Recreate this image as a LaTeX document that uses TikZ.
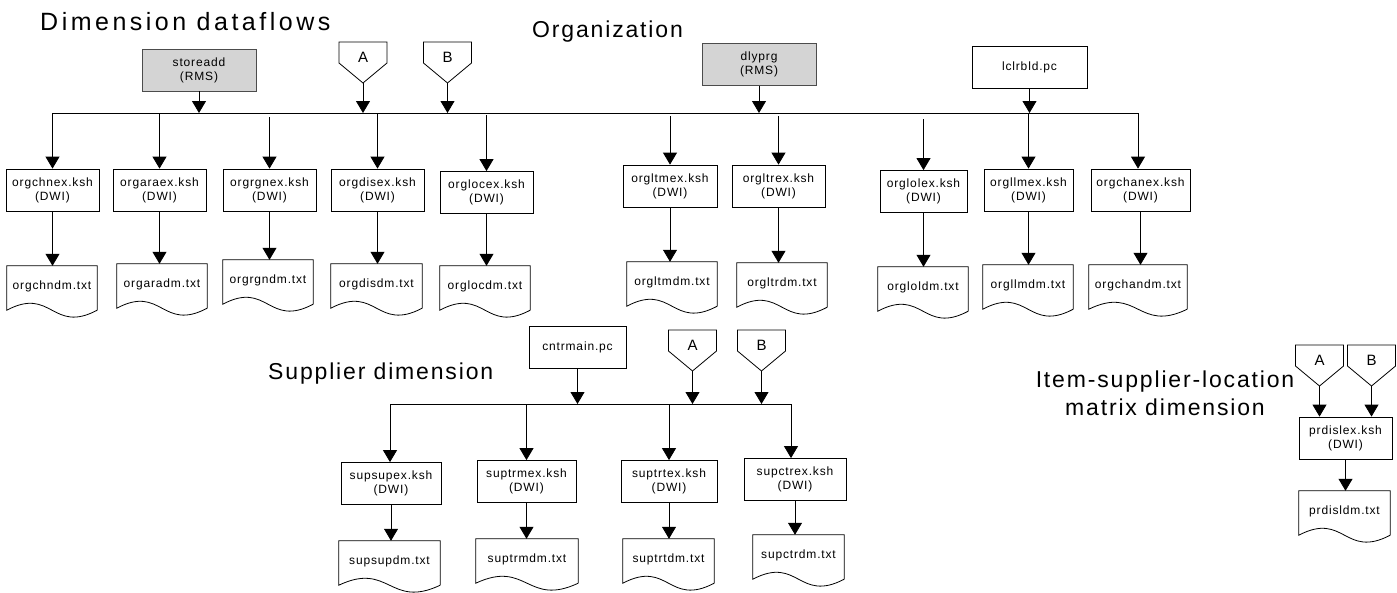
\documentclass[tikz,border=0pt]{standalone}
\usepackage{fontspec}
\setmainfont{Liberation Sans}
\newfontfamily\boxfont[LetterSpace=7]{Liberation Sans}
\newfontfamily\headfont[LetterSpace=8]{Liberation Sans}
\newfontfamily\titlefont[LetterSpace=14]{Liberation Sans}
\usetikzlibrary{arrows.meta}
\definecolor{rmsgray}{RGB}{212,212,212}

\begin{document}
\begin{tikzpicture}[x=1pt,y=-1pt,
    proc/.style={draw,line width=0.8pt,minimum width=93pt,minimum height=42pt,inner sep=1pt,align=center,
      font={\boxfont\fontsize{12pt}{14pt}\selectfont}},
    rms/.style={proc,fill=rmsgray,draw=black!70,minimum width=114pt},
    txtdoc/.style={minimum width=90pt,minimum height=44pt,inner sep=0pt,text depth=6pt,
      font={\boxfont\fontsize{12pt}{14pt}\selectfont}},
    flow/.style={line width=0.8pt,-{Triangle[width=14pt,length=12pt]}},
    head/.style={font={\headfont\fontsize{23pt}{28pt}\selectfont},inner sep=0pt}]
  \useasboundingbox (0,0) rectangle (1397,592);

  % headings
  \node[font={\titlefont\fontsize{25pt}{30pt}\selectfont},inner sep=0pt,anchor=base west] (title) at (40,30) {Dimension dataflows};
  \node[head,anchor=base west] (orghead) at (532,37) {Organization};
  \node[head,anchor=base west] (suphead) at (268,379) {Supplier dimension};
  \node[head,align=center] (islhead) at (1165,393.5) {Item-supplier-location\\matrix dimension};

  % off-page connectors A and B
  \foreach \n/\x/\y/\t in {A1/363/42/A,B1/447.5/42/B,A2/692.5/330/A,B2/761.5/330/B,A3/1319.5/345/A,B3/1371.5/345/B} {
    \draw[line width=0.8pt] (\x-24,\y) -- (\x+24,\y) -- (\x+24,\y+21) -- (\x,\y+41) -- (\x-24,\y+21) -- cycle;
    \node[font=\fontsize{15pt}{18pt}\selectfont,inner sep=0pt] (\n) at (\x,\y+15.5) {\t};
    \coordinate (\n tip) at (\x,\y+41);
  }

  % organization
  \node[rms] (storeadd) at (199,70) {storeadd\\(RMS)};
  \node[rms] (dlyprg) at (759,64.5) {dlyprg\\(RMS)};
  \node[proc,minimum width=115pt] (lclrbld) at (1029.5,67.5) {lclrbld.pc};

  \coordinate (busL) at (52.5,113);
  \coordinate (busR) at (1138,113);
  \draw[line width=0.8pt] (busL) -- (busR);

  \foreach \n/\x/\y/\w in {orgchnex/52.5/190/93pt,orgaraex/159.5/190/93pt,orgrgnex/269.5/190/93pt,
      orgdisex/377.5/190/93pt,orglocex/486.5/192.5/93pt,orgltmex/670/186/94pt,orgltrex/778.5/186/93pt,
      orglolex/923.5/191.5/87pt,orgllmex/1028.5/190/89pt,orgchanex/1140.5/190/99pt}
    \node[proc,minimum width=\w] (\n) at (\x,\y) {\n.ksh\\(DWI)};

  \foreach \n/\x/\y/\w in {orgchndm/52/288/90pt,orgaradm/162/286/90pt,orgrgndm/268/282/90pt,
      orgdisdm/376.5/286/91pt,orglocdm/485/288/90pt,orgltmdm/672/284/90pt,orgltrdm/782/285/90pt,
      orgloldm/923/289/90pt,orgllmdm/1028/287/90pt,orgchandm/1138/287/98pt}
    \node[txtdoc,minimum width=\w] (\n) at (\x,\y) {\n.txt};

  \draw[flow] (storeadd) -- (storeadd |- busL);
  \draw[flow] (dlyprg) -- (dlyprg |- busL);
  \draw[flow] (lclrbld) -- (lclrbld |- busL);
  \draw[flow] (A1tip) -- (A1tip |- busL);
  \draw[flow] (B1tip) -- (B1tip |- busL);

  \foreach \n/\g in {orgchnex/0,orgaraex/0,orgrgnex/4,orgdisex/0,orglocex/2,orgltmex/3,orgltrex/3,orglolex/6,orgllmex/0}
    \draw[flow] ([yshift=-\g pt]\n.north |- busL) -- (\n);
  \draw[flow] (busR) -- (busR |- orgchanex.north);

  \foreach \a/\b in {orgchnex/orgchndm,orgaraex/orgaradm,orgrgnex/orgrgndm,orgdisex/orgdisdm,orglocex/orglocdm,
      orgltmex/orgltmdm,orgltrex/orgltrdm,orglolex/orgloldm,orgllmex/orgllmdm,orgchanex/orgchandm}
    \draw[flow] (\a) -- (\a |- \b.north);

  % supplier
  \node[proc,minimum width=97pt] (cntrmain) at (577.5,347.5) {cntrmain.pc};

  \coordinate (sbusL) at (390,404);
  \coordinate (sbusR) at (791,404);
  \draw[line width=0.8pt] (sbusL) -- (sbusR);

  \foreach \n/\x/\y/\w in {supsupex/391/483.5/100pt,suptrmex/526.5/481.5/99pt,suptrtex/669/481.5/96pt,supctrex/795/479.5/102pt}
    \node[proc,minimum width=\w] (\n) at (\x,\y) {\n.ksh\\(DWI)};
  \foreach \n/\x/\y/\w in {supsupdm/389.5/563/101pt,suptrmdm/527/561/102pt,suptrtdm/668.5/561/91pt,supctrdm/798.5/557/91pt}
    \node[txtdoc,minimum width=\w] (\n) at (\x,\y) {\n.txt};

  \draw[flow] (cntrmain) -- (cntrmain |- sbusL);
  \draw[flow] (A2tip) -- (A2tip |- sbusL);
  \draw[flow] (B2tip) -- (B2tip |- sbusL);
  \draw[flow] (sbusL) -- (sbusL |- supsupex.north);
  \draw[flow] (suptrmex |- sbusL) -- (suptrmex);
  \draw[flow] (suptrtex |- sbusL) -- (suptrtex);
  \draw[flow] (sbusR) -- (sbusR |- supctrex.north);

  \foreach \a/\b in {supsupex/supsupdm,suptrmex/suptrmdm,suptrtex/suptrtdm,supctrex/supctrdm}
    \draw[flow] (\a) -- (\a |- \b.north);

  % item-supplier-location
  \node[proc] (prdislex) at (1345.5,438) {prdislex.ksh\\(DWI)};
  \node[txtdoc,minimum width=91pt] (prdisldm) at (1344.5,513) {prdisldm.txt};
  \draw[flow] (A3tip) -- (A3tip |- prdislex.north);
  \draw[flow] (B3tip) -- (B3tip |- prdislex.north);
  \draw[flow] (prdislex) -- (prdislex |- prdisldm.north);

  % document outlines
  \foreach \d in {orgchndm,orgaradm,orgrgndm,orgdisdm,orglocdm,orgltmdm,orgltrdm,orgloldm,orgllmdm,orgchandm,
      supsupdm,suptrmdm,suptrtdm,supctrdm,prdisldm}
    \draw[line width=0.8pt] (\d.south east) -- (\d.north east) -- (\d.north west) -- (\d.south west)
      .. controls ([yshift=24pt]\d.south) and ([yshift=-24pt]\d.south) .. (\d.south east);
\end{tikzpicture}
\end{document}
